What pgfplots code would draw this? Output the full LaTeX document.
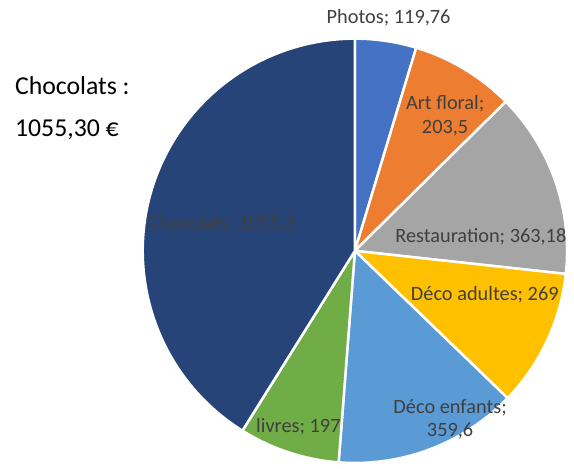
\documentclass[border=0pt]{standalone}
\usepackage{fontspec}
\setmainfont{Carlito}
\usepackage{pgfplots}
\pgfplotsset{compat=1.18}

\definecolor{cPhotos}{HTML}{4472C4}
\definecolor{cArt}{HTML}{ED7D31}
\definecolor{cResto}{HTML}{A5A5A5}
\definecolor{cAdultes}{HTML}{FFC000}
\definecolor{cEnfants}{HTML}{5B9BD5}
\definecolor{cLivres}{HTML}{70AD47}
\definecolor{cChoco}{HTML}{264478}
\definecolor{lbl}{HTML}{404040}

% slice values (clockwise from 12 o'clock)
\def\vPhotos{119.76}
\def\vArt{203.5}
\def\vResto{363.18}
\def\vAdultes{269}
\def\vEnfants{359.6}
\def\vLivres{197}
\def\vChoco{1055.3}

\newcommand\slice[3]{% colour, start angle, end angle
  \fill[#1, draw=white, line width=2.5pt, line join=round]
    (axis cs:358,215) -- ++(#2:214pt) arc[start angle=#2, end angle=#3, radius=214pt] -- cycle;}

\begin{document}
\begin{tikzpicture}
\pgfmathsetmacro\total{\vPhotos+\vArt+\vResto+\vAdultes+\vEnfants+\vLivres+\vChoco}
\pgfmathsetmacro\aA{90}
\pgfmathsetmacro\aB{\aA-\vPhotos/\total*360}
\pgfmathsetmacro\aC{\aB-\vArt/\total*360}
\pgfmathsetmacro\aD{\aC-\vResto/\total*360}
\pgfmathsetmacro\aE{\aD-\vAdultes/\total*360}
\pgfmathsetmacro\aF{\aE-\vEnfants/\total*360}
\pgfmathsetmacro\aG{\aF-\vLivres/\total*360}
\pgfmathsetmacro\aH{\aG-\vChoco/\total*360}
\begin{axis}[
  at={(0,0)}, anchor=origin,
  x=1pt, y=1pt,
  xmin=0, xmax=574, ymin=0, ymax=468,
  hide axis,
  clip=false,
]
\path (axis cs:0,0) rectangle (axis cs:574,468);
\slice{cPhotos}{\aA}{\aB}
\slice{cArt}{\aB}{\aC}
\slice{cResto}{\aC}{\aD}
\slice{cAdultes}{\aD}{\aE}
\slice{cEnfants}{\aE}{\aF}
\slice{cLivres}{\aF}{\aG}
\slice{cChoco}{\aG}{\aH}

\begin{scope}[every node/.style={text=lbl, font=\fontsize{20.5}{24}\selectfont, align=center, inner sep=0pt}]
\node at (axis cs:392,450) {Photos; 119,76};
\node at (axis cs:449,351) {Art floral;\\203,5};
\node at (axis cs:485,229) {Restauration; 363,18};
\node at (axis cs:489,171) {Déco adultes; 269};
\node at (axis cs:454,45) {Déco enfants;\\359,6};
\node at (axis cs:301,38) {livres; 197};
\node at (axis cs:224,242) {Chocolats; 1055,3};
\end{scope}

\node[anchor=west, align=left, inner sep=0pt, font=\fontsize{26}{42}\selectfont]
  at (axis cs:15,359) {Chocolats :\\1055,30 €};
\end{axis}
\end{tikzpicture}
\end{document}
